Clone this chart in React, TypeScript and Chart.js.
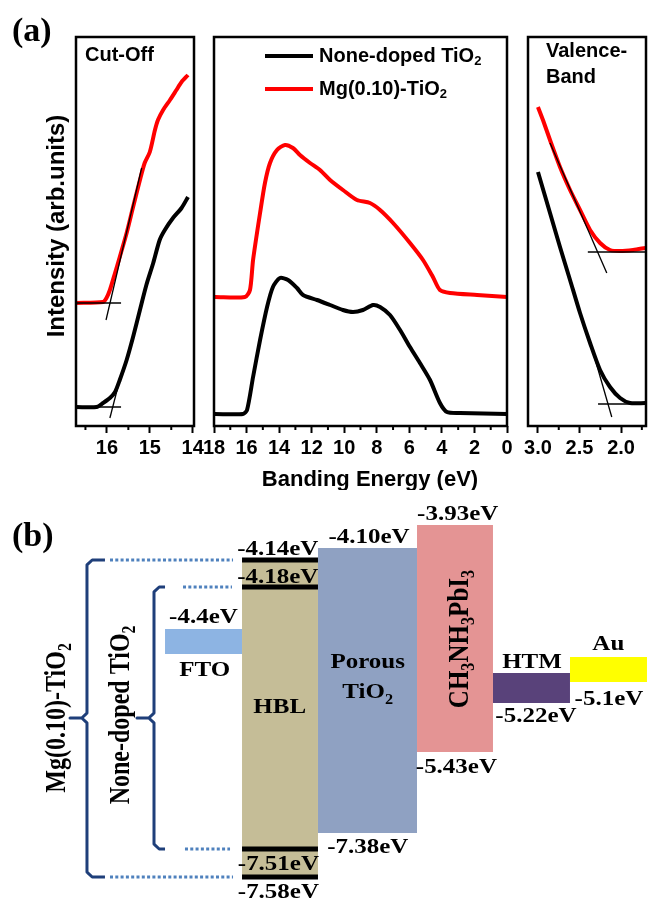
import React, { useEffect, useRef } from 'react';
import { Chart, registerables } from 'chart.js';

Chart.register(...registerables);

const SANS = '"Liberation Sans", Arial, Helvetica, sans-serif';
const SERIF = '"Liberation Serif", "Times New Roman", Times, serif';

// ======================= Panel (a) data =======================
const seriesNames = ['None-doped TiO_2', 'Mg(0.10)-TiO_2'];
const seriesColors = ['#000000', '#ff0000'];

// --- Cut-Off region ---
const cutoffMajorTicks = [16, 15, 14];
const cutoffMinorTicks = [16.5, 15.5, 14.5];
const cutoffEnergyNone = [16.71, 16.24, 16.09, 15.93, 15.81, 15.70, 15.54, 15.39, 15.23, 15.08, 14.92, 14.77, 14.65, 14.46, 14.26, 14.11];
const cutoffIntensityNone = [19, 19, 23, 28, 34, 46, 66, 89, 116, 141, 163, 186, 196, 208, 218, 229];
const cutoffEnergyMg = [16.72, 16.09, 16.01, 15.93, 15.81, 15.70, 15.54, 15.39, 15.23, 15.12, 15.00, 14.88, 14.81, 14.69, 14.53, 14.38, 14.26, 14.11];
const cutoffIntensityMg = [123, 124, 128, 136, 153, 169, 193, 219, 246, 263, 274, 296, 306, 316, 326, 336, 344, 351];
const cutoffFitNoneE = [15.93, 15.66];
const cutoffFitNoneI = [8, 53];
const cutoffBaseNoneE = [16.72, 15.67];
const cutoffBaseNoneI = [19, 19];
const cutoffFitMgE = [16.02, 15.19];
const cutoffFitMgI = [106, 258];
const cutoffBaseMgE = [16.72, 15.67];
const cutoffBaseMgI = [123, 123];

// --- Full spectrum ---
const fullMajorTicks = [18, 16, 14, 12, 10, 8, 6, 4, 2, 0];
const fullMinorTicks = [17, 15, 13, 11, 9, 7, 5, 3, 1];
const fullEnergyNone = [17.94, 16.22, 15.97, 15.60, 15.17, 14.74, 14.38, 13.95, 13.45, 12.90, 12.53, 11.67, 10.87, 10.08, 9.46, 8.85, 8.23, 7.80, 7.19, 6.57, 5.96, 5.35, 4.73, 4.12, 3.69, 2.89, 0];
const fullIntensityNone = [12, 12, 16, 49, 86, 119, 139, 148, 146, 138, 131, 126, 121, 116, 114, 116, 121, 119, 111, 96, 79, 63, 46, 23, 14, 13, 12];
const fullEnergyMg = [17.94, 16.10, 15.79, 15.60, 15.17, 14.87, 14.56, 14.13, 13.64, 13.15, 12.72, 12.10, 11.49, 10.87, 10.08, 9.22, 8.42, 7.80, 7.00, 5.96, 5.16, 4.55, 4.12, 3.50, 1.84, 0];
const fullIntensityMg = [129, 129, 136, 166, 213, 243, 263, 276, 281, 278, 271, 263, 256, 246, 236, 226, 223, 216, 203, 183, 166, 149, 136, 133, 131, 129];

// --- Valence band ---
const vbMajorTicks = [3.0, 2.5, 2.0];
const vbMinorTicks = [2.75, 2.25, 1.75];
const vbEnergyNone = [3.0, 2.855, 2.735, 2.614, 2.494, 2.373, 2.253, 2.133, 2.012, 1.892, 1.71];
const vbIntensityNone = [254, 213, 179, 146, 113, 83, 56, 39, 28, 23, 23];
const vbEnergyMg = [3.0, 2.94, 2.855, 2.735, 2.614, 2.494, 2.373, 2.253, 2.133, 2.012, 1.855, 1.71];
const vbIntensityMg = [319, 306, 286, 259, 236, 216, 196, 183, 176, 175, 176, 178];
const vbFitNoneE = [2.334, 2.112];
const vbFitNoneI = [73, 9];
const vbBaseNoneE = [2.277, 1.70];
const vbBaseNoneI = [22, 22];
const vbFitMgE = [2.855, 2.172];
const vbFitMgI = [283, 153];
const vbBaseMgE = [2.40, 1.70];
const vbBaseMgI = [174, 174];

// ======================= Panel (b) data =======================
const layerNames = ['FTO', 'HBL', 'Porous TiO2', 'CH3NH3PbI3', 'HTM', 'Au'];
const layerColors = ['#8db4e3', '#c5bd97', '#8fa1c2', '#e49494', '#59427a', '#ffff00'];
const layerLeft = [25.31, 37.12, 48.77, 63.96, 75.61, 87.42];
const layerRight = [37.12, 48.77, 63.96, 75.61, 87.42, 99.23];
const layerTop = [66.18, 82.97, 85.89, 91.48, 55.47, 59.37];
const layerBottom = [60.10, 5.84, 16.55, 36.25, 48.18, 53.28];

// HBL band edges (-4.14, -4.18, -7.51, -7.58 eV) drawn as thick bars
const hblLevels = [82.97, 76.40, 12.65, 5.84];
// dotted guides from the braces to the HBL edges
const guideLevels = [82.97, 76.40, 12.65, 5.84];
const guideStart = [16.87, 28.07, 28.37, 16.87];
const guideEnd = [35.74, 35.58, 35.28, 35.74];
// braces (Mg-doped outer, none-doped inner)
const braceX = [13.34, 23.62];
const braceTop = [82.97, 76.40];
const braceBottom = [5.84, 12.65];
const braceMid = [44.53, 44.53];
const braceHook = [16.10, 25.31];
const braceCusp = [10.74, 21.01];

const bandLabels = ['-4.14eV', '-4.18eV', '-4.4eV', '-7.51eV', '-7.58eV', '-4.10eV', '-3.93eV', '-5.22eV', '-5.1eV', '-5.43eV', '-7.38eV'];
const layerTexts = ['FTO', 'HBL', 'Porous', 'TiO_2', 'HTM', 'Au'];

// ---------- layout (positions, not data) ----------
const W = 652;
const A_H = 490;
const B_H = 411;
const BOX_TOP = 37;
const BOX_BOTTOM = 426;
const AXIS_H = 40;
const MAJOR_TICK = 7;
const MINOR_TICK = 4;
const bandLabelPos = [[42.6, 84.18], [42.6, 77.37], [31.2, 67.64], [42.7, 7.54], [42.7, 0.73], [56.6, 87.1], [70.2, 92.7], [82.2, 43.55], [93.4, 47.69], [70.0, 31.14], [56.4, 11.68]];
const layerTextPos = [[31.4, 54.74], [42.9, 45.74], [56.4, 56.69], [56.4, 49.39], [81.6, 56.69], [93.3, 61.07]];

type Seg = { t: string; sub: boolean };
function parseRich(s: string): Seg[] {
  const segs: Seg[] = [];
  for (let i = 0; i < s.length; i++) {
    if (s[i] === '_' && i + 1 < s.length) {
      segs.push({ t: s[i + 1], sub: true });
      i++;
    } else {
      const last = segs[segs.length - 1];
      if (last && !last.sub) last.t += s[i];
      else segs.push({ t: s[i], sub: false });
    }
  }
  return segs;
}

interface TOpts {
  size: number;
  family: string;
  weight?: string;
  align?: 'left' | 'center' | 'right';
  sx?: number;
  rotate?: boolean;
  color?: string;
  baseline?: CanvasTextBaseline;
}

function drawRich(ctx: CanvasRenderingContext2D, text: string, x: number, y: number, o: TOpts) {
  const segs = parseRich(text);
  const weight = o.weight ?? 'bold';
  const subSize = o.size * 0.65;
  ctx.save();
  ctx.translate(x, y);
  ctx.scale(o.sx ?? 1, 1);
  if (o.rotate) ctx.rotate(-Math.PI / 2);
  ctx.fillStyle = o.color ?? '#000';
  ctx.textBaseline = o.baseline ?? 'alphabetic';
  ctx.textAlign = 'left';
  const fontOf = (s: Seg) => `${weight} ${s.sub ? subSize : o.size}px ${o.family}`;
  const widths = segs.map((s) => {
    ctx.font = fontOf(s);
    return ctx.measureText(s.t).width;
  });
  const total = widths.reduce((a, b) => a + b, 0);
  let cx = o.align === 'left' ? 0 : o.align === 'right' ? -total : -total / 2;
  segs.forEach((s, i) => {
    ctx.font = fontOf(s);
    ctx.fillText(s.t, cx, s.sub ? o.size * 0.28 : 0);
    cx += widths[i];
  });
  ctx.restore();
}

const pts = (xs: number[], ys: number[]) => xs.map((x, i) => ({ x, y: ys[i] }));

function curve(label: string, color: string, xs: number[], ys: number[]) {
  return {
    label,
    data: pts(xs, ys),
    borderColor: color,
    backgroundColor: color,
    borderWidth: 4,
    pointRadius: 0,
    tension: 0.25,
    fill: false,
  };
}
function thin(label: string, xs: number[], ys: number[]) {
  return {
    label,
    data: pts(xs, ys),
    borderColor: '#000',
    borderWidth: 1.3,
    pointRadius: 0,
    tension: 0,
    fill: false,
  };
}

function spectrumConfig(p: {
  boxLeft: number;
  boxRight: number;
  xMin: number;
  xMax: number;
  major: number[];
  minor: number[];
  fmt: (v: number) => string;
  datasets: any[];
  annotate: (chart: any) => void;
}): any {
  const frameAndMinor = {
    id: 'frame',
    afterDraw(chart: any) {
      const { left, top, right, bottom } = chart.chartArea;
      const ctx = chart.ctx;
      const xs = chart.scales.x;
      ctx.save();
      ctx.strokeStyle = '#000';
      ctx.lineWidth = 2;
      ctx.beginPath();
      p.minor.forEach((v) => {
        const x = xs.getPixelForValue(v);
        ctx.moveTo(x, bottom);
        ctx.lineTo(x, bottom + MINOR_TICK);
      });
      ctx.stroke();
      ctx.lineWidth = 2.5;
      ctx.strokeRect(left, top, right - left, bottom - top);
      ctx.restore();
    },
  };
  return {
    type: 'line',
    data: { datasets: p.datasets },
    options: {
      responsive: false,
      animation: false,
      events: [],
      layout: {
        autoPadding: false,
        padding: { left: p.boxLeft, right: W - p.boxRight, top: BOX_TOP, bottom: A_H - BOX_BOTTOM - AXIS_H },
      },
      plugins: { legend: { display: false }, tooltip: { enabled: false } },
      scales: {
        x: {
          type: 'linear',
          reverse: true,
          min: p.xMin,
          max: p.xMax,
          afterBuildTicks: (ax: any) => {
            ax.ticks = p.major.map((v) => ({ value: v }));
          },
          afterFit: (ax: any) => {
            ax.height = AXIS_H;
          },
          ticks: {
            autoSkip: false,
            maxRotation: 0,
            minRotation: 0,
            padding: 3,
            color: '#000',
            font: { family: SANS, size: 20, weight: 'bold' },
            callback: (v: any) => p.fmt(Number(v)),
          },
          grid: { drawOnChartArea: false, drawTicks: true, tickLength: MAJOR_TICK, tickWidth: 2, tickColor: '#000' },
          border: { display: false },
        },
        y: { type: 'linear', display: false, min: 0, max: 389 },
      },
    },
    plugins: [frameAndMinor, { id: 'annot', afterDraw: p.annotate }],
  };
}

function diagramConfig(): any {
  const datasets: any[] = [];
  hblLevels.forEach((lv, i) => {
    datasets.push({
      label: 'HBL edge ' + i,
      data: [{ x: layerLeft[1], y: lv }, { x: layerRight[1], y: lv }],
      borderColor: '#000',
      borderWidth: 5,
      borderCapStyle: 'butt',
      pointRadius: 0,
      fill: false,
      order: 1,
    });
  });
  guideLevels.forEach((lv, i) => {
    datasets.push({
      label: 'guide ' + i,
      data: [{ x: guideStart[i], y: lv }, { x: guideEnd[i], y: lv }],
      borderColor: '#4f81bd',
      borderWidth: 3,
      borderDash: [3, 2.3],
      borderCapStyle: 'butt',
      pointRadius: 0,
      fill: false,
      order: 1,
    });
  });
  braceX.forEach((x, i) => {
    const rx = 0.8;
    const ry = 1.2;
    const top = braceTop[i];
    const bot = braceBottom[i];
    const mid = braceMid[i];
    datasets.push({
      label: 'brace ' + i,
      data: [
        { x: braceHook[i], y: top },
        { x: x + rx, y: top },
        { x, y: top - ry },
        { x, y: mid + ry },
        { x: x - rx, y: mid },
        { x: braceCusp[i], y: mid },
        { x: x - rx, y: mid },
        { x, y: mid - ry },
        { x, y: bot + ry },
        { x: x + rx, y: bot },
        { x: braceHook[i], y: bot },
      ],
      borderColor: '#1f3f7a',
      borderWidth: 3,
      borderJoinStyle: 'round',
      pointRadius: 0,
      tension: 0,
      fill: false,
      order: 1,
    });
  });
  layerNames.forEach((name, i) => {
    datasets.push({
      label: name,
      data: [{ x: layerLeft[i], y: layerTop[i] }, { x: layerRight[i], y: layerTop[i] }],
      borderColor: 'transparent',
      borderWidth: 0,
      backgroundColor: layerColors[i],
      pointRadius: 0,
      fill: { value: layerBottom[i] },
      order: 10,
    });
  });

  const annotate = (chart: any) => {
    const ctx = chart.ctx;
    const xs = chart.scales.x;
    const ys = chart.scales.y;
    const px = (v: number) => xs.getPixelForValue(v);
    const py = (v: number) => ys.getPixelForValue(v);
    const SX = 1.19;
    bandLabels.forEach((t, i) => {
      drawRich(ctx, t, px(bandLabelPos[i][0]), py(bandLabelPos[i][1]), { size: 21, family: SERIF, align: 'center', sx: SX });
    });
    layerTexts.forEach((t, i) => {
      drawRich(ctx, t, px(layerTextPos[i][0]), py(layerTextPos[i][1]), { size: 21, family: SERIF, align: 'center', sx: SX });
    });
    drawRich(ctx, 'CH_3NH_3PbI_3', px(70.6), py(63.75), { size: 25, family: SERIF, align: 'center', rotate: true, baseline: 'middle', sx: SX });
    drawRich(ctx, 'Mg(0.10)-TiO_2', px(8.9), py(44.53), { size: 24, family: SERIF, align: 'center', rotate: true, baseline: 'middle', sx: SX });
    drawRich(ctx, 'None-doped TiO_2', px(18.7), py(45.26), { size: 24, family: SERIF, align: 'center', rotate: true, baseline: 'middle', sx: SX });
    drawRich(ctx, '(b)', 12, 56, { size: 34, family: SERIF, align: 'left' });
  };

  return {
    type: 'line',
    data: { datasets },
    options: {
      responsive: false,
      animation: false,
      events: [],
      layout: { autoPadding: false, padding: 0 },
      plugins: { legend: { display: false }, tooltip: { enabled: false }, filler: { propagate: false } },
      scales: {
        x: { type: 'linear', display: false, min: 0, max: 100 },
        y: { type: 'linear', display: false, min: 0, max: 100 },
      },
    },
    plugins: [{ id: 'diagramText', afterDraw: annotate }],
  };
}

export default function App() {
  const cCut = useRef<HTMLCanvasElement>(null);
  const cFull = useRef<HTMLCanvasElement>(null);
  const cVb = useRef<HTMLCanvasElement>(null);
  const cDiag = useRef<HTMLCanvasElement>(null);

  useEffect(() => {
    const charts: Chart[] = [];

    charts.push(
      new Chart(
        cCut.current!,
        spectrumConfig({
          boxLeft: 76,
          boxRight: 194,
          xMin: 13.97,
          xMax: 16.72,
          major: cutoffMajorTicks,
          minor: cutoffMinorTicks,
          fmt: (v) => String(v),
          datasets: [
            thin('fit none', cutoffFitNoneE, cutoffFitNoneI),
            thin('base none', cutoffBaseNoneE, cutoffBaseNoneI),
            thin('fit mg', cutoffFitMgE, cutoffFitMgI),
            thin('base mg', cutoffBaseMgE, cutoffBaseMgI),
            curve(seriesNames[0], seriesColors[0], cutoffEnergyNone, cutoffIntensityNone),
            curve(seriesNames[1], seriesColors[1], cutoffEnergyMg, cutoffIntensityMg),
          ],
          annotate: (chart) => {
            const ctx = chart.ctx;
            const { left, top } = chart.chartArea;
            drawRich(ctx, 'Cut-Off', left + 9, top + 24, { size: 20, family: SANS, align: 'left' });
            drawRich(ctx, 'Intensity (arb.units)', 57, 226, { size: 24, family: SANS, align: 'center', rotate: true, baseline: 'middle' });
            drawRich(ctx, '(a)', 12, 41, { size: 34, family: SERIF, align: 'left' });
          },
        })
      )
    );

    charts.push(
      new Chart(
        cFull.current!,
        spectrumConfig({
          boxLeft: 214,
          boxRight: 507,
          xMin: 0,
          xMax: 18,
          major: fullMajorTicks,
          minor: fullMinorTicks,
          fmt: (v) => String(v),
          datasets: [
            curve(seriesNames[0], seriesColors[0], fullEnergyNone, fullIntensityNone),
            curve(seriesNames[1], seriesColors[1], fullEnergyMg, fullIntensityMg),
          ],
          annotate: (chart) => {
            const ctx = chart.ctx;
            const { left, top } = chart.chartArea;
            seriesNames.forEach((name, i) => {
              const y = top + 19 + i * 33;
              ctx.save();
              ctx.strokeStyle = seriesColors[i];
              ctx.lineWidth = 4;
              ctx.beginPath();
              ctx.moveTo(left + 51, y);
              ctx.lineTo(left + 99, y);
              ctx.stroke();
              ctx.restore();
              drawRich(ctx, name, left + 105, y, { size: 20, family: SANS, align: 'left', baseline: 'middle' });
            });
            drawRich(ctx, 'Banding Energy (eV)', 370, 486, { size: 22, family: SANS, align: 'center' });
          },
        })
      )
    );

    charts.push(
      new Chart(
        cVb.current!,
        spectrumConfig({
          boxLeft: 528,
          boxRight: 646,
          xMin: 1.7,
          xMax: 3.12,
          major: vbMajorTicks,
          minor: vbMinorTicks,
          fmt: (v) => v.toFixed(1),
          datasets: [
            thin('fit none', vbFitNoneE, vbFitNoneI),
            thin('base none', vbBaseNoneE, vbBaseNoneI),
            thin('fit mg', vbFitMgE, vbFitMgI),
            thin('base mg', vbBaseMgE, vbBaseMgI),
            curve(seriesNames[0], seriesColors[0], vbEnergyNone, vbIntensityNone),
            curve(seriesNames[1], seriesColors[1], vbEnergyMg, vbIntensityMg),
          ],
          annotate: (chart) => {
            const ctx = chart.ctx;
            const { left, top } = chart.chartArea;
            drawRich(ctx, 'Valence-', left + 18, top + 20, { size: 20, family: SANS, align: 'left' });
            drawRich(ctx, 'Band', left + 18, top + 46, { size: 20, family: SANS, align: 'left' });
          },
        })
      )
    );

    charts.push(new Chart(cDiag.current!, diagramConfig()));

    return () => charts.forEach((c) => c.destroy());
  }, []);

  const abs = (top: number): React.CSSProperties => ({ position: 'absolute', left: 0, top });
  return (
    <div style={{ position: 'absolute', left: 0, top: 0, width: W, height: 901, background: '#fff', overflow: 'hidden' }}>
      <canvas ref={cCut} width={W} height={A_H} style={abs(0)} />
      <canvas ref={cFull} width={W} height={A_H} style={abs(0)} />
      <canvas ref={cVb} width={W} height={A_H} style={abs(0)} />
      <canvas ref={cDiag} width={W} height={B_H} style={abs(A_H)} />
    </div>
  );
}
